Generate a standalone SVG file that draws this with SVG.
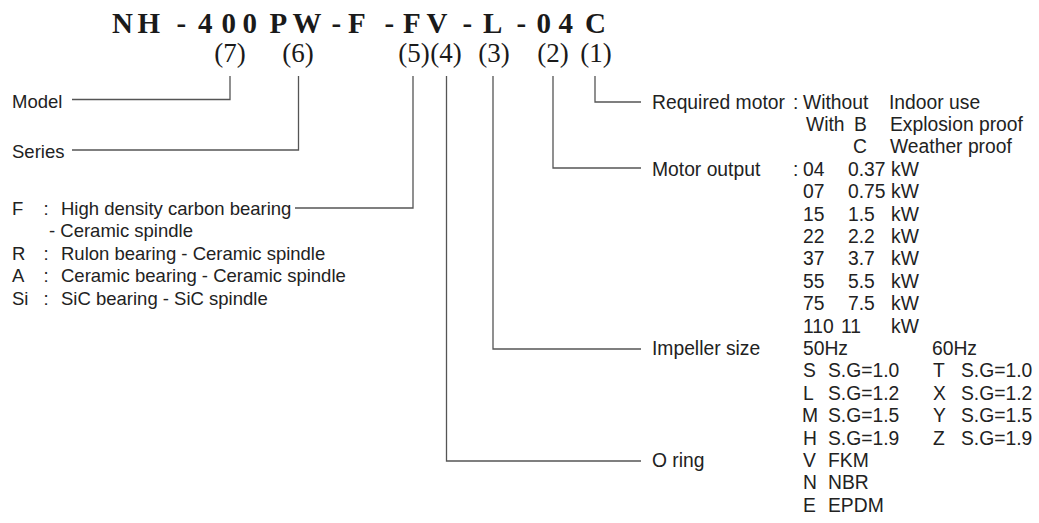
<svg xmlns="http://www.w3.org/2000/svg" width="1039" height="523" viewBox="0 0 1039 523">
<style>
.t{font-family:"Liberation Sans",Arial,sans-serif;font-size:19.3px;fill:#222}
.l{font-family:"Liberation Sans",Arial,sans-serif;font-size:18.5px;fill:#222}
.code{font-family:"Liberation Serif","Times New Roman",serif;font-size:29px;font-weight:bold;fill:#1a1a1a}
.num{font-family:"Liberation Serif","Times New Roman",serif;font-size:27px;fill:#1a1a1a;text-anchor:middle}
.ln{fill:none;stroke:#555;stroke-width:1.3}
</style>
<rect width="1039" height="523" fill="#fff"/>
<g id="code">
<text class="code" y="33" x="112 137.5 176.5 198 221.5 242.5 269.5 292.5 331.5 348 384.5 403 426.5 462.5 483 516.5 536.5 558.5 585">NH-400PW-F-FV-L-04C</text>
</g>
<g id="positions">
<text class="num" x="230" y="62">(7)</text>
<text class="num" x="298" y="62">(6)</text>
<text class="num" x="414" y="62">(5)</text>
<text class="num" x="446" y="62">(4)</text>
<text class="num" x="494" y="62">(3)</text>
<text class="num" x="553" y="62">(2)</text>
<text class="num" x="596" y="62">(1)</text>
</g>
<g id="connectors">
<polyline class="ln" points="230,76 230,99.5 72,99.5"/>
<polyline class="ln" points="298.5,76 298.5,150 72,150"/>
<polyline class="ln" points="413,76 413,208 295,208"/>
<polyline class="ln" points="446.5,76 446.5,461 641,461"/>
<polyline class="ln" points="493,76 493,349 641,349"/>
<polyline class="ln" points="553,76 553,168 641,168"/>
<polyline class="ln" points="595,76 595,102 641,102"/>
</g>
<g id="model"><text class="l" x="12" y="108">Model</text></g>
<g id="series"><text class="l" x="12" y="158">Series</text></g>
<g id="bearing">
<text class="l" y="215"><tspan x="12">F</tspan><tspan x="43.5">:</tspan><tspan x="61">High density carbon bearing</tspan></text>
<text class="l" x="49" y="237.4">- Ceramic spindle</text>
<text class="l" y="259.8"><tspan x="12">R</tspan><tspan x="43.5">:</tspan><tspan x="61">Rulon bearing - Ceramic spindle</tspan></text>
<text class="l" y="282.2"><tspan x="12">A</tspan><tspan x="43.5">:</tspan><tspan x="61">Ceramic bearing - Ceramic spindle</tspan></text>
<text class="l" y="304.6"><tspan x="12">Si</tspan><tspan x="43.5">:</tspan><tspan x="61">SiC bearing - SiC spindle</tspan></text>
</g>
<g id="motor">
<text class="t" y="108.5"><tspan x="652">Required motor</tspan><tspan x="793">:</tspan><tspan x="803">Without</tspan><tspan x="889">Indoor use</tspan></text>
<text class="t" y="130.9"><tspan x="806">With</tspan><tspan x="854">B</tspan><tspan x="890">Explosion proof</tspan></text>
<text class="t" y="153.3"><tspan x="853">C</tspan><tspan x="890">Weather proof</tspan></text>
</g>
<g id="output">
<text class="t" y="175.7"><tspan x="652">Motor output</tspan><tspan x="793">:</tspan><tspan x="803">04</tspan><tspan x="848">0.37</tspan><tspan x="891">kW</tspan></text>
<text class="t" y="198.1"><tspan x="803">07</tspan><tspan x="848">0.75</tspan><tspan x="891">kW</tspan></text>
<text class="t" y="220.5"><tspan x="803">15</tspan><tspan x="848">1.5</tspan><tspan x="891">kW</tspan></text>
<text class="t" y="242.9"><tspan x="803">22</tspan><tspan x="848">2.2</tspan><tspan x="891">kW</tspan></text>
<text class="t" y="265.3"><tspan x="803">37</tspan><tspan x="848">3.7</tspan><tspan x="891">kW</tspan></text>
<text class="t" y="287.7"><tspan x="803">55</tspan><tspan x="848">5.5</tspan><tspan x="891">kW</tspan></text>
<text class="t" y="310.1"><tspan x="803">75</tspan><tspan x="848">7.5</tspan><tspan x="891">kW</tspan></text>
<text class="t" y="332.5"><tspan x="803">110</tspan><tspan x="841">11</tspan><tspan x="891">kW</tspan></text>
</g>
<g id="impeller">
<text class="t" y="354.9"><tspan x="652">Impeller size</tspan><tspan x="803">50Hz</tspan><tspan x="932">60Hz</tspan></text>
<text class="t" y="377.3"><tspan x="803">S</tspan><tspan x="828">S.G=1.0</tspan><tspan x="933">T</tspan><tspan x="961">S.G=1.0</tspan></text>
<text class="t" y="399.7"><tspan x="803">L</tspan><tspan x="828">S.G=1.2</tspan><tspan x="933">X</tspan><tspan x="961">S.G=1.2</tspan></text>
<text class="t" y="422.1"><tspan x="802">M</tspan><tspan x="828">S.G=1.5</tspan><tspan x="933">Y</tspan><tspan x="961">S.G=1.5</tspan></text>
<text class="t" y="444.5"><tspan x="803">H</tspan><tspan x="828">S.G=1.9</tspan><tspan x="933">Z</tspan><tspan x="961">S.G=1.9</tspan></text>
</g>
<g id="oring">
<text class="t" y="466.9"><tspan x="652">O ring</tspan><tspan x="803">V</tspan><tspan x="828">FKM</tspan></text>
<text class="t" y="489.3"><tspan x="803">N</tspan><tspan x="828">NBR</tspan></text>
<text class="t" y="511.7"><tspan x="803">E</tspan><tspan x="828">EPDM</tspan></text>
</g>
</svg>
